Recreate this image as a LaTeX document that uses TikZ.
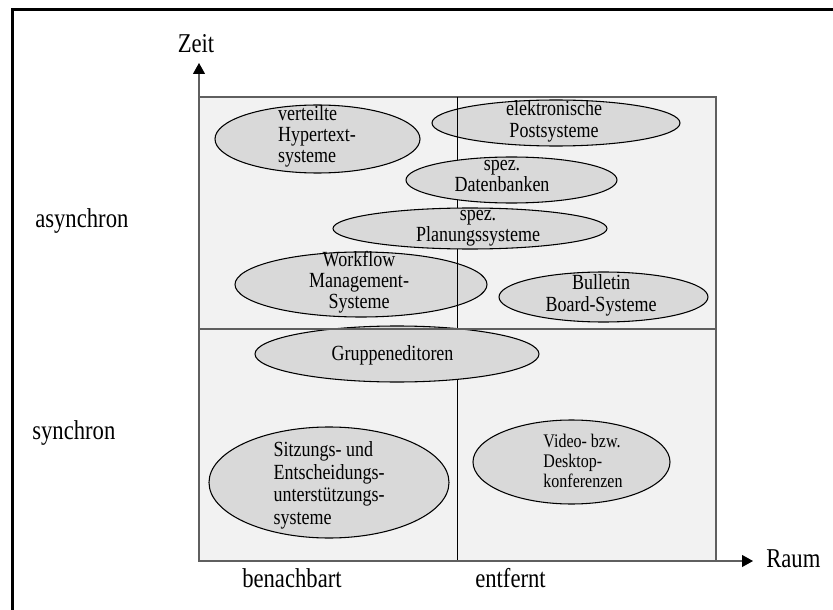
\documentclass[tikz,border=0pt]{standalone}
\usepackage{fontspec}
\usepackage{graphicx}
\setmainfont{Liberation Serif}
\usetikzlibrary{shapes.geometric,arrows.meta}
\definecolor{panel}{HTML}{F2F2F2}
\definecolor{blobfill}{HTML}{D9D9D9}
\definecolor{edge}{HTML}{5F5F5F}
% text set slightly taller than wide
\newcommand\tallbox[2]{\scalebox{1}[1.2]{\begin{tabular}{@{}#1@{}}#2\end{tabular}}}
\begin{document}
\begin{tikzpicture}[x=0.75pt,y=-0.75pt,
  oval/.style 2 args={ellipse, draw=black, line width=0.8pt, fill=blobfill,
    minimum width=#1*0.75pt, minimum height=#2*0.75pt, inner sep=0pt},
  txt/.style={inner sep=0pt, font=\fontsize{13.5}{#1}\selectfont},
  txt/.default=13.75pt,
  axislabel/.style={inner sep=0pt, font=\fontsize{17}{20}\selectfont},
  axis/.style={draw=edge, line width=0.8pt,
    -{Triangle[length=8.25pt,width=9pt,black]}}]
\useasboundingbox (0,0) rectangle (833,610);

% outer frame (open to the right and bottom)
\draw[line width=2.25pt] (12.5,610) -- (12.5,9.5) -- (833,9.5);

% quadrant panel
\path[fill=panel, draw=edge, line width=1.1pt]
  (199,97) coordinate (nw) rectangle (716,561) coordinate (se);

% ellipses lying below the middle divider
\node[oval={248}{46}] (post) at (556,123) {};
\node[txt=13.75pt] (posttxt) at (554,122) {\tallbox{c}{elektronische\\Postsysteme}};
\node[oval={205}{68}] (hyp) at (317.5,139) {};
\node[txt=13.1pt] (hyptxt) at (317,137) {\tallbox{l}{verteilte\\Hypertext-\\systeme}};
\node[oval={252}{65}] (wf) at (361,284.5) {};
\node[txt=13.1pt] (wftxt) at (359,283) {\tallbox{c}{Workflow\\Management-\\Systeme}};

% vertical divider
\coordinate (vtop) at (457,97);
\coordinate (vbot) at (457,561);
\draw[black, line width=0.75pt] (vtop) -- (vbot);

% ellipses lying above the middle divider
\node[oval={211}{46}] (db) at (511.5,180) {};
\node[txt=12.5pt] (dbtxt) at (502,177) {\tallbox{c}{spez.\\Datenbanken}};
\node[oval={274}{41}] (plan) at (470,228.5) {};
\node[txt=11.9pt] (plantxt) at (478,227) {\tallbox{c}{spez.\\Planungssysteme}};
\node[oval={209}{50}] (bb) at (603.5,297) {};
\node[txt=13.75pt] (bbtxt) at (601,296) {\tallbox{c}{Bulletin\\Board-Systeme}};
\node[oval={284}{56}] (grp) at (397,354) {};
\node[txt] (grptxt) at (392.5,356) {\tallbox{c}{Gruppeneditoren}};
\node[oval={240}{111}] (sitz) at (329,482.5) {};
\node[txt=14.1pt] (sitztxt) at (329,486)
  {\tallbox{l}{Sitzungs- und\\Entscheidungs-\\unterstützungs-\\systeme}};
\node[oval={197}{84}] (vid) at (571.5,462) {};
\node[inner sep=0pt, font=\fontsize{12}{12.5}\selectfont] (vidtxt) at (583,463)
  {\tallbox{l}{Video- bzw.\\Desktop-\\konferenzen}};

% horizontal divider
\coordinate (hleft) at (199,329);
\coordinate (hright) at (716,329);
\draw[edge, line width=1pt] (hleft) -- (hright);

% axes
\coordinate (O) at (199,561);
\coordinate (ytip) at (199,63);
\coordinate (xtip) at (753,561);
\draw[axis] (O) -- (ytip);
\draw[axis] (O) -- (xtip);

% axis labels
\node[axislabel, anchor=base] (zeit) at (196,53) {\tallbox{c}{Zeit}};
\node[axislabel, anchor=base west] (raum) at (766,568) {\tallbox{c}{Raum}};
\node[axislabel, anchor=base west] (async) at (35,228) {\tallbox{c}{asynchron}};
\node[axislabel, anchor=base west] (sync) at (32,440) {\tallbox{c}{synchron}};
\node[axislabel, anchor=base west] (nah) at (242,588) {\tallbox{c}{benachbart}};
\node[axislabel, anchor=base west] (fern) at (475,588) {\tallbox{c}{entfernt}};
\end{tikzpicture}
\end{document}
